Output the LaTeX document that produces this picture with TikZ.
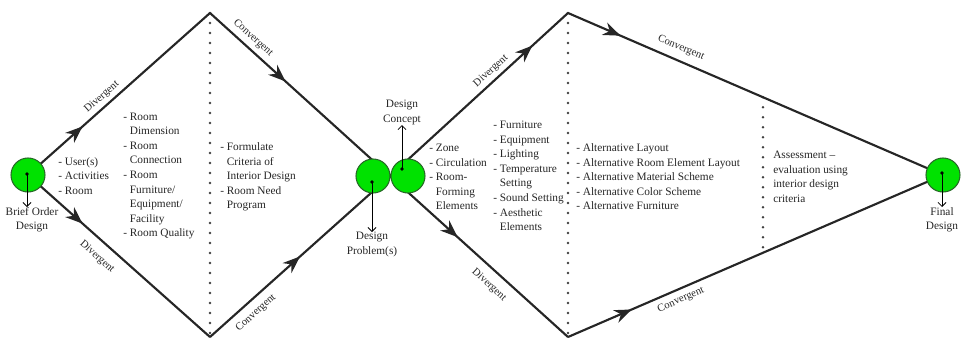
\documentclass[tikz,border=0pt]{standalone}
\usepackage{fontspec}
\setmainfont{Liberation Serif}
\usetikzlibrary{arrows.meta,decorations.markings}
\definecolor{dotgreen}{RGB}{0,226,0}
\definecolor{rimgreen}{RGB}{40,105,40}
\tikzset{midarrow/.style={decoration={markings, mark=at position #1 with {\arrow{Stealth[length=13pt,width=10pt]}}}, postaction={decorate}}}

\begin{document}
\begin{tikzpicture}[x=0.75pt, y=-0.75pt, font=\fontsize{8.5}{10.9}\selectfont, text=black!85,
 flow/.style={line width=1.6pt, draw=black!85},
 stage/.style={circle, draw=rimgreen, line width=0.8pt, fill=dotgreen, minimum size=25.5pt, inner sep=0pt},
 dotsep/.style={line width=2pt, line cap=round, dash pattern=on 0pt off 7.5pt, draw=black!75},
 lst/.style={align=left, inner sep=0pt, anchor=west},
 phaselabel/.style={font=\fontsize{8}{9}\selectfont, inner sep=0pt},
 caption/.style={align=center, inner sep=0pt},
 pointer/.style={-{Straight Barb[length=3pt,width=6pt]}, line width=0.6pt}]
\useasboundingbox (0,0) rectangle (961,340);
% corners and centres
\coordinate (c1) at (28,175); \coordinate (topA) at (210,13); \coordinate (botA) at (210,337);
\coordinate (meet) at (390,176); \coordinate (topB) at (568,13); \coordinate (botB) at (568,337);
\coordinate (c4) at (943,175);
\path (topB) -- (c4) coordinate[pos=0.52] (evalTop);
\path (botB) -- (c4) coordinate[pos=0.52] (evalBot);
% dotted separators
\draw[dotsep] (topA) -- (botA);
\draw[dotsep] (topB) -- (botB);
\draw[dotsep] (evalTop) -- (evalBot);
% diverging / converging paths
\draw[flow, midarrow=0.3] (c1) -- (topA);
\draw[flow, midarrow=0.3] (c1) -- (botA);
\draw[flow, midarrow=0.42] (topA) -- (meet);
\draw[flow, midarrow=0.5] (botA) -- (meet);
\draw[flow, midarrow=0.8] (meet) -- (topB);
\draw[flow, midarrow=0.38] (meet) -- (botB);
\draw[flow, midarrow=0.14] (topB) -- (c4);
\draw[flow, midarrow=0.17] (botB) -- (c4);
% stages
\node[stage] (brief) at (c1) {};
\node[stage] (problem) at (373,176) {};
\node[stage] (concept) at (408,176) {};
\node[stage] (final) at (c4) {};
\coordinate (briefdot) at (27,174); \coordinate (probdot) at (372,182);
\coordinate (concdot) at (402,169); \coordinate (findot) at (942,173);
\foreach \d in {briefdot,probdot,concdot,findot} \fill (\d) circle (1.4pt);
\node[caption, anchor=north] (brieflbl) at (32,207) {Brief Order\\Design};
\node[caption, anchor=north] (problbl) at (372,232) {Design\\Problem(s)};
\node[caption, anchor=south] (conclbl) at (402,125) {Design\\Concept};
\node[caption, anchor=north] (finlbl) at (942,207) {Final\\Design};
\draw[pointer] (briefdot) -- (briefdot |- brieflbl.north);
\draw[pointer] (probdot) -- (probdot |- problbl.north);
\draw[pointer] (concdot) -- (concdot |- conclbl.south);
\draw[pointer] (findot) -- (findot |- finlbl.north);
% path labels
\node[phaselabel, rotate=41.7] (div1) at (102,97) {Divergent};
\node[phaselabel, rotate=-41.7] (div2) at (97,257) {Divergent};
\node[phaselabel, rotate=-42.2] (conv1) at (253,38) {Convergent};
\node[phaselabel, rotate=42] (conv2) at (256,313) {Convergent};
\node[phaselabel, rotate=42.5] (div3) at (491,71) {Divergent};
\node[phaselabel, rotate=-42.5] (div4) at (489,285) {Divergent};
\node[phaselabel, rotate=-23.4] (conv3) at (681,48) {Convergent};
\node[phaselabel, rotate=23.4] (conv4) at (681,300) {Convergent};
% contents of each phase
\node[lst] (users) at (58,176) {- User(s)\\- Activities\\- Room};
\node[lst] (rooms) at (123,176) {- Room\\\hphantom{- }Dimension\\- Room\\\hphantom{- }Connection\\- Room\\\hphantom{- }Furniture/\\\hphantom{- }Equipment/\\\hphantom{- }Facility\\- Room Quality};
\node[lst] (criteria) at (220,177) {- Formulate\\\hphantom{- }Criteria of\\\hphantom{- }Interior Design\\- Room Need\\\hphantom{- }Program};
\node[lst] (zones) at (429,177) {- Zone\\- Circulation\\- Room-\\\hphantom{- }Forming\\\hphantom{- }Elements};
\node[lst] (elements) at (493,176) {- Furniture\\- Equipment\\- Lighting\\- Temperature\\\hphantom{- }Setting\\- Sound Setting\\- Aesthetic\\\hphantom{- }Elements};
\node[lst] (alts) at (576,177) {- Alternative Layout\\- Alternative Room Element Layout\\- Alternative Material Scheme\\- Alternative Color Scheme\\- Alternative Furniture};
\node[lst] (assess) at (773,177) {Assessment --\\evaluation using\\interior design\\criteria};
\end{tikzpicture}
\end{document}
